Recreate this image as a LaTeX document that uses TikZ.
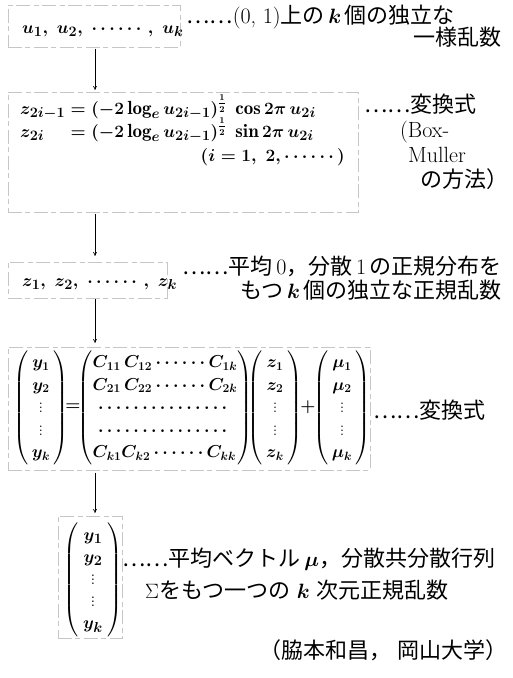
\documentclass[tikz,border=0pt]{standalone}
\usepackage{amsmath}
\usepackage{fontspec}
\newfontfamily\jp{Noto Sans CJK JP}
\newcommand\J[1]{{\jp #1}}
\usetikzlibrary{arrows.meta}
\begin{document}
\begin{tikzpicture}[x=1pt,y=-1pt,
  boxline/.style={draw=gray!45, line width=0.5pt, dash pattern=on 14pt off 3pt on 5pt off 4pt, inner sep=0pt, anchor=north west},
  flow/.style={-{To[length=4pt,width=4pt]}, line width=0.6pt},
  txt/.style={inner sep=0pt, font=\fontsize{22}{24}\selectfont},
  mth/.style={inner sep=0pt, font=\fontsize{19}{22}\selectfont\boldmath},
  mtx/.style={inner sep=0pt, font=\fontsize{18}{22.5}\selectfont\boldmath},
]
\useasboundingbox (0,0) rectangle (513,678);
% boxes
\node[boxline, minimum width=172pt, minimum height=42pt] (b1) at (8,5) {};
\node[boxline, minimum width=350pt, minimum height=120pt] (b2) at (8,92) {};
\node[boxline, minimum width=159pt, minimum height=36pt] (b3) at (8,262) {};
\node[boxline, minimum width=362pt, minimum height=123pt] (b4) at (8,347) {};
\node[boxline, minimum width=64pt, minimum height=122pt] (b5) at (58,516) {};
% arrows
\coordinate (ax) at (95,0);
\draw[flow, shorten <=1pt, shorten >=2pt] (b1.south -| ax) -- (b2.north -| ax);
\draw[flow, shorten <=1pt, shorten >=6pt] (b2.south -| ax) -- (b3.north -| ax);
\draw[flow, shorten >=4pt] (b3.south -| ax) -- (b4.north -| ax);
\draw[flow, shorten <=2pt, shorten >=3pt] (b4.south -| ax) -- (b5.north -| ax);
% box 1
\node[mth, anchor=base west] (u) at (22,33) {$u_1,\;u_2,\;\cdots\cdots,\;u_k$};
\node[txt, anchor=base west] (a11) at (186,23) {\J{……}(0,\ 1)\J{上の}\,$\boldsymbol{k}$\,\J{個の独立な}};
\node[txt, anchor=base east] (a12) at (502,45) {\J{一様乱数}};
% box 2
\node[mth, anchor=base west] (f1) at (20,114) {$z_{2i-1}=(-2\log_e u_{2i-1})^{\frac{1}{2}}\ \cos 2\pi\, u_{2i}$};
\node[mth, anchor=base west] (f2) at (20,137) {$\rlap{$z_{2i}$}\phantom{z_{2i-1}}=(-2\log_e u_{2i-1})^{\frac{1}{2}}\ \sin 2\pi\, u_{2i}$};
\node[mth, anchor=base east] (f3) at (345,161) {$(i=1,\ 2,\cdots\cdots)$};
\node[txt, anchor=base west] (a21) at (364,112) {\J{……変換式}};
\node[txt, anchor=base west] (a22) at (400,137) {(Box-};
\node[txt, anchor=base west] (a23) at (408,162) {Muller};
\node[txt, anchor=base west] (a24) at (420,187) {\J{の方法）}};
% box 3
\node[mth, anchor=base west] (z) at (22,286) {$z_1,\;z_2,\;\cdots\cdots,\;z_k$};
\node[txt, anchor=base east] (a31) at (502,274) {\J{……平均}\,0\J{，}\J{分散}\,1\,\J{の正規分布を}};
\node[txt, anchor=base east] (a32) at (502,298) {\J{もつ}\,$\boldsymbol{k}$\,\J{個の独立な正規乱数}};
% box 4: the transformation
\node[mtx] (yvec) at (41,408) {$\left(\begin{array}{@{\,}c@{\,}} y_1\\ y_2\\ \vdots\\ \vdots\\ y_k\end{array}\right)$};
\node[mtx] (eqs) at (73,407) {$=$};
\node[mtx] (cmat) at (165,408) {$\left(\begin{array}{@{}l@{}} C_{11}\,C_{12}\cdots\cdots C_{1k}\\ C_{21}\,C_{22}\cdots\cdots C_{2k}\\ \;\cdots\cdots\cdots\cdots\cdots\\ \;\cdots\cdots\cdots\cdots\cdots\\ C_{k1}C_{k2}\cdots\cdots C_{kk}\end{array}\right)$};
\node[mtx] (zvec) at (275,408) {$\left(\begin{array}{@{\,}c@{\,}} z_1\\ z_2\\ \vdots\\ \vdots\\ z_k\end{array}\right)$};
\node[mtx] (plus) at (308,407) {$+$};
\node[mtx] (muvec) at (342,408) {$\left(\begin{array}{@{\,}c@{\,}} \mu_1\\ \mu_2\\ \vdots\\ \vdots\\ \mu_k\end{array}\right)$};
\node[txt, anchor=base west] (a41) at (373,418) {\J{……変換式}};
% box 5
\node[mth, anchor=center] (yv) at (93,580) {$\left(\begin{array}{c} y_1\\ y_2\\ \vdots\\ \vdots\\ y_k\end{array}\right)$};
\node[txt, anchor=base west] (a51) at (122,566) {\J{……平均ベクトル}\,$\boldsymbol{\mu}$\J{，分散共分散行列}};
\node[txt, anchor=base west] (a52) at (145,598) {$\Sigma$\J{をもつ一つの}\ $\boldsymbol{k}$\ \J{次元正規乱数}};
\node[txt, anchor=base east] (foot) at (508,658) {\J{（脇本和昌，}\ \J{岡山大学）}};
\end{tikzpicture}
\end{document}
